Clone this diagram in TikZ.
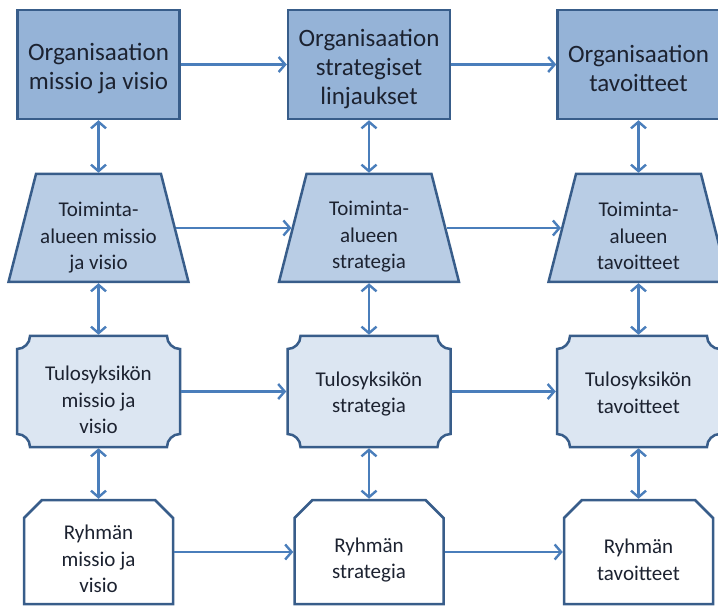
\documentclass[tikz,border=0pt]{standalone}
\usepackage{fontspec}
\setmainfont{Carlito}
\usetikzlibrary{arrows.meta}
\definecolor{edge}{HTML}{385D8A}
\definecolor{link}{HTML}{4A7EBB}
\definecolor{fillA}{HTML}{95B3D7}
\definecolor{fillB}{HTML}{B9CDE5}
\definecolor{fillC}{HTML}{DCE6F2}
\definecolor{ink}{HTML}{1C2230}

\tikzset{
  outline/.style={draw=edge, line width=2.5pt},
  % invisible frames that carry the anchors of each box
  frame/.style={rectangle, draw=none, outer sep=1.25pt, inner sep=0pt},
  orgbox/.style={frame, outline, fill=fillA, minimum width=162pt, minimum height=109pt},
  areabox/.style={frame, minimum width=152.5pt, minimum height=108pt},
  unitbox/.style={frame, minimum width=163pt, minimum height=111pt},
  groupbox/.style={frame, minimum width=149pt, minimum height=104pt},
  label/.style={align=center, text=ink, inner sep=0pt, font=\fontsize{21}{26.5}\selectfont},
  biglabel/.style={label, font=\fontsize{25}{29}\selectfont},
  flow/.style={draw=link, line width=2.4pt,
    -{Straight Barb[length=6.5pt,width=15pt]}},
  twoway/.style={draw=link, line width=2.4pt,
    {Straight Barb[length=6.5pt,width=15pt]}-{Straight Barb[length=6.5pt,width=15pt]}},
}

% trapezoid centred at (#1,#2)
\newcommand\trapshape[2]{%
  \path[outline, fill=fillB] (#1-90,#2-54) -- (#1+90,#2-54) -- (#1+62.5,#2+54)
    -- (#1-62.5,#2+54) -- cycle;}
% plaque with concave corners centred at (#1,#2)
\newcommand\plaque[2]{%
  \path[outline, fill=fillC]
    (#1-68.5,#2-55.5) -- (#1+68.5,#2-55.5)
    arc[start angle=180,end angle=90,radius=13pt] -- (#1+81.5,#2+42.5)
    arc[start angle=270,end angle=180,radius=13pt] -- (#1-68.5,#2+55.5)
    arc[start angle=0,end angle=-90,radius=13pt] -- (#1-81.5,#2-42.5)
    arc[start angle=90,end angle=0,radius=13pt] -- cycle;}
% box with the two top corners snipped, centred at (#1,#2)
\newcommand\snipshape[2]{%
  \path[outline, fill=white] (#1-74.5,#2-52) -- (#1+74.5,#2-52) -- (#1+74.5,#2+34)
    -- (#1+56.5,#2+52) -- (#1-56.5,#2+52) -- (#1-74.5,#2+34) -- cycle;}

\begin{document}
\begin{tikzpicture}[x=1pt,y=1pt]
\useasboundingbox (0,0) rectangle (718,606);
\clip (0,0) rectangle (718,606);

% organisation level
\node[orgbox] (a1) at (98.5,541.5) {};
\node[orgbox] (a2) at (369,541.5) {};
\node[orgbox] (a3) at (638.5,541.5) {};
\node[biglabel] (a1t) at (98.5,537) {Organisaation\\missio ja visio};
\node[biglabel] (a2t) at (369,537) {Organisaation\\strategiset\\linjaukset};
\node[biglabel] (a3t) at (638.5,538) {Organisaation\\tavoitteet};

% business area level
\trapshape{98.5}{378}
\trapshape{369}{378}
\trapshape{638.5}{378}
\node[areabox] (b1) at (98.5,378) {};
\node[areabox] (b2) at (369,378) {};
\node[areabox] (b3) at (638.5,378) {};
\node[label] (b1t) at (98.5,368) {Toiminta-\\alueen missio\\ja visio};
\node[label] (b2t) at (369,369) {Toiminta-\\alueen\\strategia};
\node[label] (b3t) at (638.5,370) {Toiminta-\\alueen\\tavoitteet};

% profit unit level
\plaque{98.5}{214.5}
\plaque{369}{214.5}
\plaque{638.5}{214.5}
\node[unitbox] (c1) at (98.5,214.5) {};
\node[unitbox] (c2) at (369,214.5) {};
\node[unitbox] (c3) at (638.5,214.5) {};
\node[label] (c1t) at (98.5,206) {Tulosyksikön\\missio ja\\visio};
\node[label] (c2t) at (369,212) {Tulosyksikön\\strategia};
\node[label] (c3t) at (638.5,213) {Tulosyksikön\\tavoitteet};

% group level
\snipshape{98.5}{54}
\snipshape{369}{54}
\snipshape{638.5}{54}
\node[groupbox] (d1) at (98.5,54) {};
\node[groupbox] (d2) at (369,54) {};
\node[groupbox] (d3) at (638.5,54) {};
\node[label] (d1t) at (98.5,47) {Ryhmän\\missio ja\\visio};
\node[label] (d2t) at (369,46) {Ryhmän\\strategia};
\node[label] (d3t) at (638.5,46) {Ryhmän\\tavoitteet};

% horizontal flow
\foreach \r in {a,b,c,d}{
  \draw[flow] (\r1.east) -- (\r2.west);
  \draw[flow] (\r2.east) -- (\r3.west);
}
% vertical links
\foreach \c in {1,2,3}{
  \draw[twoway] (a\c.south) -- (b\c.north);
  \draw[twoway] (b\c.south) -- (c\c.north);
  \draw[twoway] (c\c.south) -- (d\c.north);
}
\end{tikzpicture}
\end{document}
